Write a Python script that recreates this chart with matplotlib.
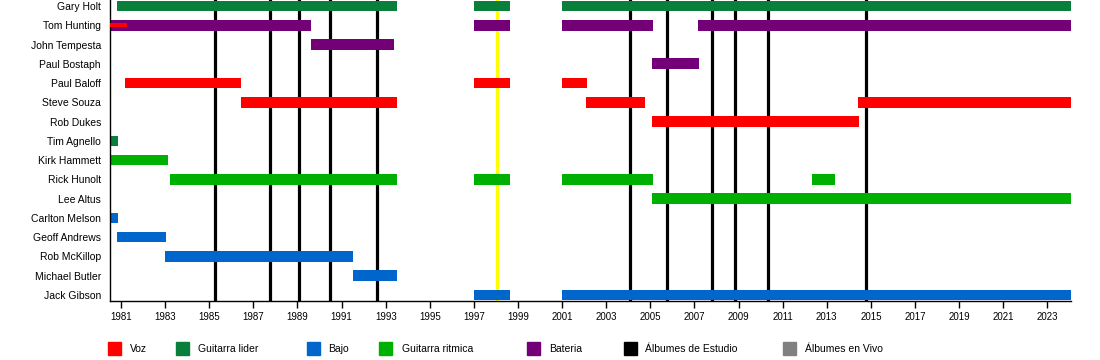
import matplotlib
matplotlib.use("Agg")
import matplotlib.pyplot as plt
from matplotlib.patches import Rectangle

plt.rcParams['font.family'] = ['Liberation Sans', 'DejaVu Sans']

members = ["Gary Holt", "Tom Hunting", "John Tempesta", "Paul Bostaph", "Paul Baloff",
           "Steve Souza", "Rob Dukes", "Tim Agnello", "Kirk Hammett", "Rick Hunolt",
           "Lee Altus", "Carlton Melson", "Geoff Andrews", "Rob McKillop", "Michael Butler",
           "Jack Gibson"]

START = 1980.5
END = 2024.07

# (member, start, end) per role
voz = [("Paul Baloff", 1981.2, 1986.42), ("Paul Baloff", 1997.0, 1998.62), ("Paul Baloff", 2001.0, 2002.12),
       ("Steve Souza", 1986.42, 1993.5), ("Steve Souza", 2002.1, 2004.75), ("Steve Souza", 2014.42, END),
       ("Rob Dukes", 2005.07, 2014.45)]
guitarra_lider = [("Gary Holt", 1980.8, 1993.5), ("Gary Holt", 1997.0, 1998.62), ("Gary Holt", 2001.0, END),
                  ("Tim Agnello", START, 1980.85)]
bajo = [("Carlton Melson", START, 1980.85), ("Geoff Andrews", 1980.8, 1983.02),
        ("Rob McKillop", 1983.0, 1991.52), ("Michael Butler", 1991.52, 1993.5),
        ("Jack Gibson", 1997.0, 1998.62), ("Jack Gibson", 2001.0, END)]
guitarra_ritmica = [("Kirk Hammett", START, 1983.11), ("Rick Hunolt", 1983.2, 1993.5),
                    ("Rick Hunolt", 1997.0, 1998.62), ("Rick Hunolt", 2001.0, 2005.1),
                    ("Rick Hunolt", 2012.33, 2013.37), ("Lee Altus", 2005.07, END)]
bateria = [("Tom Hunting", START, 1989.6), ("Tom Hunting", 1997.0, 1998.62), ("Tom Hunting", 2001.0, 2005.1),
           ("Tom Hunting", 2007.16, END), ("John Tempesta", 1989.6, 1993.36), ("Paul Bostaph", 2005.07, 2007.2)]
voz_extra = [("Tom Hunting", START, 1981.25)]

albumes_estudio = [1985.24, 1987.74, 1989.05, 1990.46, 1992.6, 2004.07, 2005.75, 2007.79, 2008.83,
                   2010.33, 2014.78]
albumes_vivo = [1998.04]

colors = {"Voz": "#ff0000", "Guitarra lider": "#0a7f3c", "Bajo": "#0066cc",
          "Guitarra ritmica": "#00b000", "Bateria": "#730077",
          "Álbumes de Estudio": "#000000", "Álbumes en Vivo": "#808080"}

fig = plt.figure(figsize=(11, 3.6), dpi=100)
ax = fig.add_axes([0.1, 0.164, 0.8736, 0.836])

ypos = {m: i for i, m in enumerate(members)}

for x in albumes_estudio:
    ax.axvline(x, color="black", lw=2.3, zorder=1)
for x in albumes_vivo:
    ax.axvline(x, color="#ffff00", lw=2.3, zorder=1)

for data, role in [(voz, "Voz"), (guitarra_lider, "Guitarra lider"), (bajo, "Bajo"),
                   (guitarra_ritmica, "Guitarra ritmica"), (bateria, "Bateria")]:
    for m, s, e in data:
        ax.barh(ypos[m], e - s, left=s, height=0.55, color=colors[role], zorder=2)
for m, s, e in voz_extra:
    ax.barh(ypos[m], e - s, left=s, height=0.2, color=colors["Voz"], zorder=3)

ax.set_xlim(START, END)
ax.set_ylim(len(members) - 1 + 0.31, -0.31)
ax.set_yticks(range(len(members)))
ax.set_yticklabels(members, fontsize=7.5)
ax.tick_params(axis="y", length=0, pad=6.5)
ax.set_xticks(range(1981, 2024, 2))
ax.tick_params(axis="x", labelsize=7, length=5, width=1, pad=3)
for s in ["top", "right"]:
    ax.spines[s].set_visible(False)
ax.spines["left"].set_linewidth(1)
ax.spines["bottom"].set_linewidth(1)

# legend
legend_items = [("Voz", 108, 130), ("Guitarra lider", 176, 198), ("Bajo", 307, 328),
                ("Guitarra ritmica", 379, 402), ("Bateria", 527, 549),
                ("Álbumes de Estudio", 624, 645), ("Álbumes en Vivo", 783, 805)]
W, H = 1100, 360
for label, sx, tx in legend_items:
    fig.patches.append(Rectangle((sx / W, 1 - 355 / H), 13 / W, 13 / H,
                                 transform=fig.transFigure, color=colors[label]))
    fig.text(tx / W, 1 - 349 / H, label, fontsize=7.5, va="center", ha="left")

fig.savefig("out.png", dpi=100)
